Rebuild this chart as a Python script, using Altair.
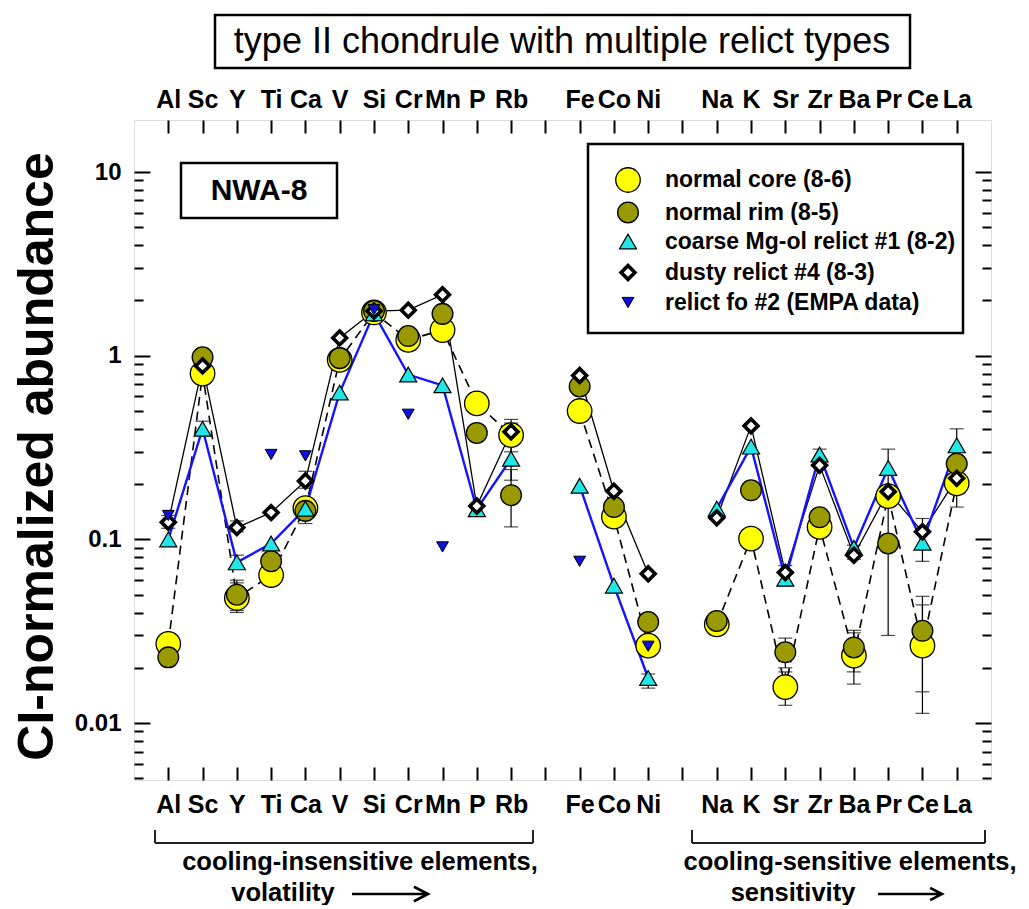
import altair as alt
import pandas as pd

# ---------------- data ----------------
groups = [
    ["Al", "Sc", "Y", "Ti", "Ca", "V", "Si", "Cr", "Mn", "P", "Rb"],
    ["Fe", "Co", "Ni"],
    ["Na", "K", "Sr", "Zr", "Ba", "Pr", "Ce", "La"],
]
series = [
    "normal core (8-6)",
    "normal rim (8-5)",
    "coarse Mg-ol relict #1 (8-2)",
    "dusty relict #4 (8-3)",
    "relict fo #2 (EMPA data)",
]
#          Al      Sc    Y      Ti     Ca     V     Si    Cr    Mn    P      Rb     Fe    Co     Ni      Na      K      Sr      Zr     Ba      Pr     Ce      La
core   = [0.027, 0.80, 0.048, 0.064, 0.148, 0.95, 1.72, 1.22, 1.38, 0.55, 0.37, 0.50, 0.133, 0.0264, 0.0345, 0.101, 0.0157, 0.117, 0.0233, 0.172, 0.0264, 0.202]
rim    = [0.0228, 0.98, 0.050, 0.076, 0.143, 0.97, 1.75, 1.28, 1.69, 0.38, 0.174, 0.68, 0.150, 0.0355, 0.036, 0.185, 0.0243, 0.132, 0.0258, 0.095, 0.0318, 0.258]
coarse = [0.100, 0.40, 0.075, 0.095, 0.147, 0.63, 1.70, 0.79, 0.69, 0.146, 0.275, 0.196, 0.056, 0.0176, 0.147, 0.32, 0.061, 0.29, 0.090, 0.245, 0.096, 0.325]
dusty  = [0.124, 0.88, 0.116, 0.140, 0.208, 1.25, 1.75, 1.77, 2.15, 0.152, 0.385, 0.78, 0.183, 0.065, 0.131, 0.415, 0.066, 0.253, 0.082, 0.182, 0.110, 0.215]
empa   = [0.135, None, None, 0.29, 0.285, None, 1.78, 0.48, 0.091, None, None, 0.076, None, 0.0262, None, None, None, None, None, None, None, None]

err_core = {"Y": (0.041, 0.058), "Ca": (0.122, 0.160), "Rb": (0.30, 0.43), "Sr": (0.0125, 0.019),
            "Ba": (0.0163, 0.031), "Ce": (0.0113, 0.044)}
err_rim = {"Y": (0.040, 0.060), "Rb": (0.117, 0.24), "Sr": (0.020, 0.029), "Ba": (0.019, 0.032),
           "Pr": (0.030, 0.31), "Ce": (0.0148, 0.049), "La": (0.15, 0.40)}
err_coarse = {"Sc": (0.37, 0.44), "Y": (0.070, 0.082), "Rb": (0.21, 0.33), "Ni": (0.0155, 0.0185),
              "Zr": (0.27, 0.31)}
err_dusty = {"Al": (0.115, 0.135), "Y": (0.110, 0.126), "Ca": (0.19, 0.235), "Rb": (0.34, 0.45),
             "Sr": (0.056, 0.072), "Ba": (0.078, 0.093), "Ce": (0.076, 0.13)}

major_ticks = [0.01, 0.1, 1, 10]
minor_ticks = [0.005, 0.006, 0.007, 0.008, 0.009,
               0.02, 0.03, 0.04, 0.05, 0.06, 0.07, 0.08, 0.09,
               0.2, 0.3, 0.4, 0.5, 0.6, 0.7, 0.8, 0.9,
               2, 3, 4, 5, 6, 7, 8, 9]

# ---------------- layout of categories ----------------
elements, xpos, grp = [], [], []
p = 0
for gi, g in enumerate(groups):
    for e in g:
        elements.append(e)
        xpos.append(p)
        grp.append(gi)
        p += 1
    p += 1
n_slots = p - 1  # 24 slots (0..23)
names_by_slot = [""] * n_slots
for e, x in zip(elements, xpos):
    names_by_slot[x] = e
label_expr = "[" + ",".join("'%s'" % s for s in names_by_slot) + "][datum.value]"

all_vals = [core, rim, coarse, dusty, empa]
all_err = [err_core, err_rim, err_coarse, err_dusty, {}]
rows, erows = [], []
for si, (name, vals, errs) in enumerate(zip(series, all_vals, all_err)):
    for i, v in enumerate(vals):
        if v is None:
            continue
        rows.append(dict(series=name, el=elements[i], x=xpos[i], grp=grp[i], value=v, z=si))
    for el, (lo, hi) in errs.items():
        i = elements.index(el)
        erows.append(dict(series=name, x=xpos[i], lo=lo, hi=hi))
df = pd.DataFrame(rows)
edf = pd.DataFrame(erows)

# ---------------- styling ----------------
W, H = 857, 660
FONT = "Liberation Sans, Arial, sans-serif"

xs = alt.Scale(domain=[-1, n_slots], nice=False, zero=False)
ys = alt.Scale(type="log", domain=[0.0049, 19.2], nice=False)

fills = ["#FFFF00", "#999900", "#22E6E6", "#FFFFFF", "#1010E0"]
strokes = ["#000000", "#000000", "#000000", "#000000", "#000000"]
shapes = ["circle", "circle", "triangle-up", "diamond", "triangle-down"]
sizes = [600, 430, 290, 190, 140]
widths = [1.3, 1.3, 1.2, 3.6, 1.0]

X = lambda **kw: alt.X("x:Q", scale=xs, **kw)
Y = lambda **kw: alt.Y("value:Q", scale=ys, **kw)

leg = alt.Legend(
    title=None, orient="none", legendX=481, legendY=47, direction="vertical",
    labelFont=FONT, labelFontSize=23, labelFontWeight="bold", labelColor="black",
    labelLimit=0, labelOffset=24, rowPadding=4, padding=0, symbolOpacity=1,
)

# error bars
ebars = alt.Chart(edf).mark_errorbar(
    ticks={"size": 14, "thickness": 1.2, "color": "black"},
    rule={"strokeWidth": 1.2, "color": "black"},
).encode(x=alt.X("x:Q", scale=xs, axis=None), y=alt.Y("lo:Q", scale=ys, axis=None), y2="hi:Q")

# connecting lines
line_core = alt.Chart(df[df.series == series[0]]).mark_line(
    color="black", strokeWidth=1.6, strokeDash=[9, 6]
).encode(x=X(axis=None), y=Y(axis=None), detail="grp:N")
line_dusty = alt.Chart(df[df.series == series[3]]).mark_line(
    color="black", strokeWidth=1.3
).encode(x=X(axis=None), y=Y(axis=None), detail="grp:N")
line_coarse = alt.Chart(df[df.series == series[2]]).mark_line(
    color="#1414FF", strokeWidth=2.4
).encode(x=X(axis=None), y=Y(axis=None), detail="grp:N")

# points
pts = alt.Chart(df).mark_point(filled=False, opacity=1, fillOpacity=1, strokeOpacity=1).encode(
    x=X(axis=None),
    y=Y(axis=None),
    fill=alt.Fill("series:N", scale=alt.Scale(domain=series, range=fills), legend=leg),
    stroke=alt.Stroke("series:N", scale=alt.Scale(domain=series, range=strokes), legend=leg),
    shape=alt.Shape("series:N", scale=alt.Scale(domain=series, range=shapes), legend=leg),
    size=alt.Size("series:N", scale=alt.Scale(type="ordinal", domain=series, range=sizes), legend=leg),
    strokeWidth=alt.StrokeWidth("series:N", scale=alt.Scale(type="ordinal", domain=series, range=widths),
                                legend=leg),
    order=alt.Order("z:Q"),
)

# axes (labels on the outside, ticks pointing inward on all four sides)
lab_common = dict(values=xpos, labelExpr=label_expr, ticks=False, domain=False, grid=False, title=None,
                  labelFont=FONT, labelFontSize=25, labelFontWeight="bold", labelColor="black",
                  labelAngle=0, labelOverlap=False, labelBound=False, labelFlush=False)
ax_top = alt.Axis(orient="top", labelPadding=8, **lab_common)
ax_bot = alt.Axis(orient="bottom", labelPadding=12, **lab_common)
tk_common = dict(values=list(range(n_slots)), tickSize=13, tickWidth=2, tickColor="black",
                 labels=False, domain=False, grid=False, title=None)
ax_top_ticks = alt.Axis(orient="bottom", offset=-H, **tk_common)
ax_bot_ticks = alt.Axis(orient="top", offset=-H, **tk_common)

ay_lab = alt.Axis(orient="left", values=major_ticks, format="~g", ticks=False, domain=False, grid=False,
                  labelFont=FONT, labelFontSize=24, labelFontWeight="bold", labelColor="black",
                  labelPadding=13, title="CI-normalized abundance", titleFont=FONT, titleFontSize=50,
                  titleFontWeight="bold", titleColor="black", titleX=-72, titleY=336, titleAngle=270,
                  titleBaseline="bottom", titleAlign="center")
yt = dict(tickWidth=2, tickColor="black", labels=False, domain=False, grid=False, title=None)
ay_lmaj = alt.Axis(orient="right", offset=-W, values=major_ticks, tickSize=16, **yt)
ay_lmin = alt.Axis(orient="right", offset=-W, values=minor_ticks, tickSize=9, **yt)
ay_rmaj = alt.Axis(orient="left", offset=-W, values=major_ticks, tickSize=16, **yt)
ay_rmin = alt.Axis(orient="left", offset=-W, values=minor_ticks, tickSize=9, **yt)


def axis_layer(xa, ya):
    return alt.Chart(df).mark_point(opacity=0).encode(x=X(axis=xa), y=Y(axis=ya))


axes = [
    axis_layer(ax_top, ay_lab),
    axis_layer(ax_bot, ay_lmaj),
    axis_layer(ax_top_ticks, ay_lmin),
    axis_layer(ax_bot_ticks, ay_rmaj),
    axis_layer(None, ay_rmin),
]

# annotations (boxes, title, brackets)
one = pd.DataFrame({"k": [0]})
ARROW = "M-1,0L1,0M0.63,-0.19L1,0L0.63,0.19"


def box(x1, y1, x2, y2, sw=2.5):
    return alt.Chart(one).mark_rect(fill="white", fillOpacity=0, stroke="black", strokeWidth=sw).encode(
        x=alt.value(x1), x2=alt.value(x2), y=alt.value(y1), y2=alt.value(y2))


def txt(s, x, y, size, font=FONT, weight="bold", align="center"):
    return alt.Chart(one).mark_text(text=s, font=font, fontSize=size, fontWeight=weight, color="black",
                                    align=align, baseline="middle").encode(x=alt.value(x), y=alt.value(y))


def rule(x1, y1, x2, y2, sw=2):
    return alt.Chart(one).mark_rule(color="#222222", strokeWidth=sw).encode(
        x=alt.value(x1), x2=alt.value(x2), y=alt.value(y1), y2=alt.value(y2))


def arrow(x, y, length):
    return alt.Chart(one).mark_point(shape=ARROW, filled=False, stroke="black", strokeWidth=2.6,
                                     opacity=1, size=length * length).encode(x=alt.value(x), y=alt.value(y))


annot = [
    box(81, -105, 776, -52),
    txt("type II chondrule with multiple relict types", 428, -78, 36, weight="normal"),
    box(47, 43, 203, 98),
    txt("NWA-8", 125, 71, 30),
    box(454, 24, 829, 213),
    rule(21, 723, 399, 723), rule(21, 710, 21, 723), rule(399, 710, 399, 723),
    rule(558, 723, 851, 723), rule(558, 710, 558, 723), rule(851, 710, 851, 723),
    txt("cooling-insensitive elements,", 226, 742, 25.5),
    txt("volatility", 149, 773, 25.5),
    arrow(256, 774, 76),
    txt("cooling-sensitive elements,", 716, 742, 25.5),
    txt("sensitivity", 659, 773, 25.5),
    arrow(776, 774, 64),
]

chart = alt.layer(
    *axes, ebars, line_core, line_dusty, line_coarse, pts, *annot
).resolve_axis(x="independent", y="independent").properties(
    width=W, height=H,
    autosize=alt.AutoSizeParams(type="none"),
    padding={"left": 126, "top": 112, "right": 30, "bottom": 125},
).configure_view(stroke="black", strokeWidth=2.5).configure(background="white")

chart.save("out.html", embed_options={"renderer": "svg", "actions": False})
